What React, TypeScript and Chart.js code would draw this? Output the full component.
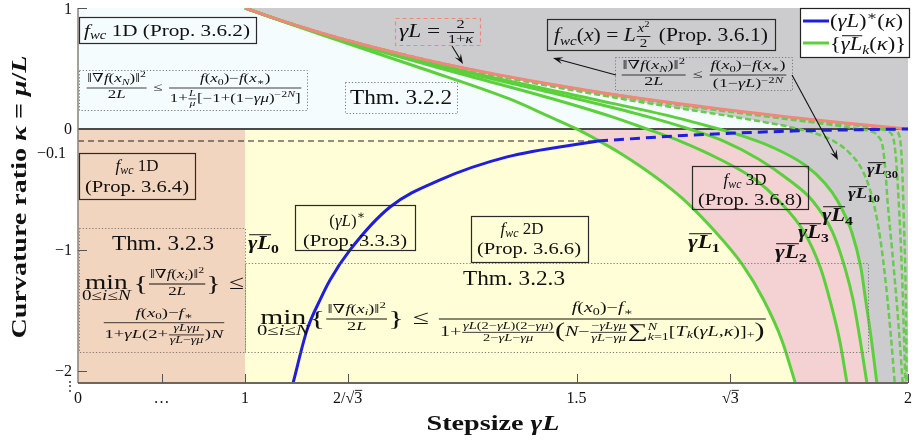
import { useEffect, useRef } from 'react';
import { Chart, registerables } from 'chart.js';

Chart.register(...registerables);

const WIDTH = 921;
const HEIGHT = 444;

// Horizontal axis: [1, 2] is drawn to scale, [0, 1] is squeezed into a short stub on the left.
const GAMMA_ZERO_AT = 0.748;
const GAMMA_MAX = 2;
const KAPPA_MIN = -2.1;
const KAPPA_MAX = 1;

const xTickValues = [GAMMA_ZERO_AT, 0.874, 1, 1.1547, 1.5, 1.7321, 2];
const xTickLabels = ['0', '…', '1', '2/√3', '1.5', '√3', '2'];
const yTickValues = [1, 0, -0.1, -1, -2];
const yTickLabels = ['1', '0', '−0.1', '−1', '−2'];

// Curves as [γL, κ] pairs, listed with increasing γL.
const stepBoundary: number[][] = [
  [1, 1], [1.0526, 0.9], [1.1111, 0.8], [1.1765, 0.7], [1.25, 0.6], [1.3333, 0.5],
  [1.4286, 0.4], [1.5385, 0.3], [1.6667, 0.2], [1.8182, 0.1], [1.9048, 0.05], [1.9608, 0.02], [2, 0],
];

const gammaL1: number[][] = [
  [1, 1], [1.0512, 0.9], [1.1315, 0.75], [1.267, 0.5], [1.398, 0.25], [1.46, 0.1], [1.5, 0],
  [1.531, -0.09], [1.563, -0.19], [1.594, -0.3], [1.632, -0.45], [1.665, -0.6], [1.706, -0.83],
  [1.75, -1.12], [1.782, -1.41], [1.81, -1.75], [1.83, -2.1],
];
const gammaL2: number[][] = [
  [1, 1], [1.0518, 0.9], [1.137, 0.75], [1.2962, 0.5], [1.4635, 0.25], [1.554, 0.1], [1.606, 0],
  [1.656, -0.1], [1.716, -0.25], [1.77, -0.42], [1.804, -0.587], [1.843, -0.85], [1.868, -1.15],
  [1.882, -1.41], [1.897, -1.75], [1.908, -2.1],
];
const gammaL3: number[][] = [
  [1, 1], [1.0522, 0.9], [1.1389, 0.75], [1.3082, 0.5], [1.5, 0.25], [1.6085, 0.1], [1.67, 0],
  [1.722, -0.1], [1.775, -0.25], [1.82, -0.42], [1.855, -0.587], [1.886, -0.85], [1.905, -1.15],
  [1.917, -1.41], [1.928, -1.75], [1.938, -2.1],
];
const gammaL4: number[][] = [
  [1, 1], [1.0522, 0.9], [1.1399, 0.75], [1.3144, 0.5], [1.522, 0.25], [1.6457, 0.1], [1.681, 0.05],
  [1.7145, 0], [1.746, -0.05], [1.795, -0.15], [1.845, -0.3], [1.875, -0.45], [1.893, -0.587],
  [1.915, -0.85], [1.929, -1.15], [1.936, -1.41], [1.945, -1.75], [1.953, -2.1],
];
const gammaL10: number[][] = [
  [1, 1], [1.0525, 0.9], [1.1417, 0.75], [1.3257, 0.5], [1.5674, 0.25], [1.7372, 0.1], [1.79, 0.05],
  [1.819, 0.02], [1.834, 0], [1.856, -0.03], [1.888, -0.1], [1.912, -0.2], [1.932, -0.35],
  [1.947, -0.587], [1.958, -0.9], [1.967, -1.3], [1.974, -1.7], [1.98, -2.1],
];
const gammaL30: number[][] = [
  [1, 1], [1.0526, 0.9], [1.1425, 0.75], [1.3306, 0.5], [1.5893, 0.25], [1.7902, 0.1], [1.8627, 0.05],
  [1.903, 0.02], [1.924, 0], [1.944, -0.02], [1.955, -0.06], [1.962, -0.15], [1.966, -0.35],
  [1.969, -0.587], [1.976, -1], [1.984, -1.5], [1.992, -2.1],
];
const gammaL60: number[][] = [
  [1, 1], [1.0526, 0.9], [1.1428, 0.75], [1.3318, 0.5], [1.595, 0.25], [1.805, 0.1], [1.885, 0.05],
  [1.935, 0.02], [1.9555, 0], [1.97, -0.02], [1.978, -0.08], [1.982, -0.25], [1.986, -0.6],
  [1.991, -1.2], [1.996, -2.1],
];
const gammaL100: number[][] = [
  [1, 1], [1.0526, 0.9], [1.1428, 0.75], [1.3325, 0.5], [1.598, 0.25], [1.811, 0.1], [1.894, 0.05],
  [1.947, 0.02], [1.9705, 0], [1.982, -0.02], [1.988, -0.08], [1.991, -0.3], [1.994, -0.8],
  [1.997, -1.5], [1.998, -2.1],
];

// Optimal stepsize (γL)*(κ): solid branch, then its dashed continuation
const optimalStep: number[][] = [
  [1.0724, -2.1], [1.0935, -1.661], [1.1131, -1.413], [1.1282, -1.248], [1.1584, -1.0],
  [1.2187, -0.645], [1.2941, -0.421], [1.3952, -0.231], [1.5324, -0.099],
];
const optimalStepContinued: number[][] = [[1.5324, -0.099], [1.676, -0.05], [1.827, -0.017], [2, 0]];
const kappaThreshold: number[][] = [[GAMMA_ZERO_AT, -0.099], [1.5324, -0.099]];

const LIGHT_BLUE = '#F5FCFE';
const PEACH = '#F2D5BF';
const YELLOW = '#FFFED7';
const PINK = '#F4D2D3';
const BLEND = '#E3D3D5';
const GRAY = '#CCCCCE';
const GREEN = '#5CD03C';
const GREEN_DASHED = '#67CB4E';
const RED = '#F0877A';
const BLUE = '#1E1EDC';

// ---------- small math-text typesetter ----------
const SERIF = '"Liberation Serif", "DejaVu Serif", serif';
const fontOf = (f: string, px: number) =>
  `${f === 'i' || f === 'bi' ? 'italic ' : ''}${f === 'b' || f === 'bi' ? 'bold ' : ''}${px}px ${SERIF}`;

const R = (s: string, sc = 1): any => ({ k: 't', s, f: 'r', sc });
const I = (s: string, sc = 1): any => ({ k: 't', s, f: 'i', sc });
const B = (s: string, sc = 1): any => ({ k: 't', s, f: 'b', sc });
const BI = (s: string, sc = 1): any => ({ k: 't', s, f: 'bi', sc });
const sp = (w: number): any => ({ k: 'sp', w });
const sub = (...c: any[]): any => ({ k: 'sub', c });
const sup = (...c: any[]): any => ({ k: 'sup', c });
const subsup = (b: any[], p: any[]): any => ({ k: 'subsup', b, p });
const under = (c: any[], u: any[]): any => ({ k: 'under', c, u });
const frac = (n: any[], d: any[], sc = 1): any => ({ k: 'frac', n, d, sc });
const ov = (...c: any[]): any => ({ k: 'ov', c });

function measureNodes(ctx: CanvasRenderingContext2D, nodes: any[], size: number) {
  let w = 0, a = 0, d = 0;
  for (const n of nodes) {
    const b = measureNode(ctx, n, size);
    w += b.w; a = Math.max(a, b.a); d = Math.max(d, b.d);
  }
  return { w, a, d };
}

function measureNode(ctx: CanvasRenderingContext2D, n: any, size: number): { w: number; a: number; d: number } {
  switch (n.k) {
    case 't': {
      const px = size * n.sc;
      ctx.font = fontOf(n.f, px);
      return { w: ctx.measureText(n.s).width, a: px * 0.72, d: px * 0.22 };
    }
    case 'sp': return { w: n.w * size, a: 0, d: 0 };
    case 'sub': {
      const b = measureNodes(ctx, n.c, size * 0.7);
      return { w: b.w, a: b.a - size * 0.2, d: b.d + size * 0.2 };
    }
    case 'sup': {
      const b = measureNodes(ctx, n.c, size * 0.7);
      return { w: b.w, a: b.a + size * 0.4, d: 0 };
    }
    case 'subsup': {
      const lo = measureNodes(ctx, n.b, size * 0.7);
      const hi = measureNodes(ctx, n.p, size * 0.7);
      return { w: Math.max(lo.w, hi.w), a: hi.a + size * 0.45, d: lo.d + size * 0.3 };
    }
    case 'under': {
      const top = measureNodes(ctx, n.c, size);
      const low = measureNodes(ctx, n.u, size * 0.7);
      return { w: Math.max(top.w, low.w), a: top.a, d: size * 0.55 + low.d };
    }
    case 'frac': {
      const s = size * n.sc;
      const nb = measureNodes(ctx, n.n, s);
      const db = measureNodes(ctx, n.d, s);
      const axis = size * 0.25, gap = Math.max(1.5, size * 0.1);
      return { w: Math.max(nb.w, db.w) + size * 0.16, a: axis + gap + nb.d + nb.a, d: db.a + gap + db.d - axis };
    }
    case 'ov': {
      const b = measureNodes(ctx, n.c, size);
      return { w: b.w, a: b.a + size * 0.12, d: b.d };
    }
  }
  return { w: 0, a: 0, d: 0 };
}

function renderNodes(ctx: CanvasRenderingContext2D, nodes: any[], x: number, y: number, size: number) {
  let cx = x;
  for (const n of nodes) cx += renderNode(ctx, n, cx, y, size);
  return cx - x;
}

function renderNode(ctx: CanvasRenderingContext2D, n: any, x: number, y: number, size: number): number {
  switch (n.k) {
    case 't': {
      const px = size * n.sc;
      ctx.font = fontOf(n.f, px);
      ctx.fillText(n.s, x, y + 0.25 * (px - size));
      return ctx.measureText(n.s).width;
    }
    case 'sp': return n.w * size;
    case 'sub': return renderNodes(ctx, n.c, x, y + size * 0.2, size * 0.7);
    case 'sup': return renderNodes(ctx, n.c, x, y - size * 0.4, size * 0.7);
    case 'subsup': {
      const w1 = renderNodes(ctx, n.b, x, y + size * 0.3, size * 0.7);
      const w2 = renderNodes(ctx, n.p, x, y - size * 0.45, size * 0.7);
      return Math.max(w1, w2);
    }
    case 'under': {
      const top = measureNodes(ctx, n.c, size);
      const low = measureNodes(ctx, n.u, size * 0.7);
      const w = Math.max(top.w, low.w);
      renderNodes(ctx, n.c, x + (w - top.w) / 2, y, size);
      renderNodes(ctx, n.u, x + (w - low.w) / 2, y + size * 0.55, size * 0.7);
      return w;
    }
    case 'frac': {
      const s = size * n.sc;
      const nb = measureNodes(ctx, n.n, s);
      const db = measureNodes(ctx, n.d, s);
      const axis = size * 0.25, gap = Math.max(1.5, size * 0.1);
      const w = Math.max(nb.w, db.w) + size * 0.16;
      const barY = y - axis;
      const lw = Math.max(0.8, size * 0.05);
      ctx.fillRect(x + size * 0.04, barY - lw / 2, w - size * 0.08, lw);
      renderNodes(ctx, n.n, x + (w - nb.w) / 2, barY - gap - nb.d, s);
      renderNodes(ctx, n.d, x + (w - db.w) / 2, barY + gap + db.a, s);
      return w;
    }
    case 'ov': {
      const b = measureNodes(ctx, n.c, size);
      const w = renderNodes(ctx, n.c, x, y, size);
      ctx.fillRect(x + size * 0.05, y - b.a - size * 0.1, w - size * 0.05, Math.max(0.9, size * 0.055));
      return w;
    }
  }
  return 0;
}

// Draw a formula; when a width is given it is stretched horizontally to fill it.
function drawMath(ctx: CanvasRenderingContext2D, nodes: any[], x: number, y: number, size: number,
  align: 'l' | 'c' | 'r' = 'c', width = 0, color = '#111') {
  const m = measureNodes(ctx, nodes, size);
  const sx = width ? width / m.w : 1;
  const total = m.w * sx;
  const left = align === 'l' ? x : align === 'r' ? x - total : x - total / 2;
  ctx.save();
  ctx.translate(left, y);
  ctx.scale(sx, 1);
  ctx.fillStyle = color;
  ctx.textAlign = 'left';
  ctx.textBaseline = 'alphabetic';
  renderNodes(ctx, nodes, 0, 0, size);
  ctx.restore();
}

// ---------- formulas ----------
const gradSq = (i: any) => [R('‖∇'), I('f'), R('('), I('x'), sub(i), R(')‖'), sup(R('2'))];
const fAt = (i: any) => [I('f'), R('('), I('x'), sub(i), R(')')];
const twoL = [R('2'), I('L')];
const fwc = [I('f'), sub(I('wc'))];
const minOverI = under([R('min')], [R('0≤'), I('i'), R('≤'), I('N')]);
const barGammaL = (k: string, sc = 1) => [ov(BI('γL', sc)), sub(B(k, sc))];

const boundOneD = [
  frac(gradSq(I('N')), twoL), sp(0.35), R('≤'), sp(0.35),
  frac([...fAt(R('0')), R('−'), ...fAt(R('∗'))],
    [R('1+'), frac([I('L')], [I('μ')], 0.7), R('[−1+(1−'), I('γμ'), R(')'), sup(R('−2'), I('N')), R(']')]),
];
const boundQuadratic = [
  frac(gradSq(I('N')), twoL), sp(0.35), R('≤'), sp(0.35),
  frac([...fAt(R('0')), R('−'), ...fAt(R('∗'))], [R('(1−'), I('γL'), R(')'), sup(R('−2'), I('N'))]),
];
const stepBoundaryLabel = [I('γL'), sp(0.25), R('='), sp(0.25), frac([R('2')], [R('1+'), I('κ')], 0.7)];
const quadraticLabel = [...fwc, R('('), I('x'), R(')'), sp(0.25), R('='), sp(0.25), I('L'),
  frac([I('x'), sup(R('2'))], [R('2')], 0.7), sp(0.35), R('(Prop. 3.6.1)')];
const minGradRow = [minOverI, sp(0.1), R('{', 1.1), frac(gradSq(I('i')), twoL, 0.62), R('}', 1.1), sp(0.3), R('≤')];
const boundSmallStep = [frac([...fAt(R('0')), R('−'), I('f'), sub(R('∗'))],
  [R('1+'), I('γL'), R('(2+'), frac([I('γLγμ')], [I('γL'), R('−'), I('γμ')], 0.75), R(')'), I('N')])];
const boundLargeStep = [
  minOverI, R('{', 1.1), frac(gradSq(I('i')), twoL, 0.62), R('}', 1.1), sp(0.3), R('≤'), sp(0.3),
  frac([...fAt(R('0')), R('−'), I('f'), sub(R('∗'))], [
    R('1+'),
    frac([I('γL'), R('(2−'), I('γL'), R(')(2−'), I('γμ'), R(')')], [R('2−'), I('γL'), R('−'), I('γμ')], 0.72),
    R('(', 1.5), I('N'), R('−'),
    frac([R('−'), I('γLγμ')], [I('γL'), R('−'), I('γμ')], 0.72),
    R('∑', 1.4), subsup([I('k'), R('=1')], [I('N')]),
    R('['), I('T'), sub(I('k')), R('('), I('γL'), R(','), I('κ'), R(')]'), sub(R('+')), R(')', 1.5),
  ], 0.68),
];

function box(ctx: CanvasRenderingContext2D, x0: number, y0: number, x1: number, y1: number,
  style: 'solid' | 'dotted' | 'dashed') {
  ctx.save();
  if (style === 'solid') { ctx.strokeStyle = '#2a2a2a'; ctx.lineWidth = 1.2; ctx.setLineDash([]); }
  if (style === 'dotted') { ctx.strokeStyle = '#7a7a7a'; ctx.lineWidth = 1; ctx.setLineDash([1.2, 2]); }
  if (style === 'dashed') { ctx.strokeStyle = RED; ctx.lineWidth = 1.2; ctx.setLineDash([4, 3]); }
  ctx.strokeRect(x0 + 0.5, y0 + 0.5, x1 - x0, y1 - y0);
  ctx.restore();
}

function arrow(ctx: CanvasRenderingContext2D, x0: number, y0: number, x1: number, y1: number) {
  const ang = Math.atan2(y1 - y0, x1 - x0);
  const len = 10, half = 3.6;
  ctx.save();
  ctx.strokeStyle = '#111';
  ctx.fillStyle = '#111';
  ctx.lineWidth = 1.1;
  ctx.beginPath();
  ctx.moveTo(x0, y0);
  ctx.lineTo(x1 - Math.cos(ang) * 4, y1 - Math.sin(ang) * 4);
  ctx.stroke();
  ctx.beginPath();
  ctx.moveTo(x1, y1);
  ctx.lineTo(x1 - len * Math.cos(ang) + half * Math.sin(ang), y1 - len * Math.sin(ang) - half * Math.cos(ang));
  ctx.lineTo(x1 - 0.6 * len * Math.cos(ang), y1 - 0.6 * len * Math.sin(ang));
  ctx.lineTo(x1 - len * Math.cos(ang) - half * Math.sin(ang), y1 - len * Math.sin(ang) + half * Math.cos(ang));
  ctx.closePath();
  ctx.fill();
  ctx.restore();
}

const toXY = (pts: number[][]) => pts.map(([x, y]) => ({ x, y }));

// Region shading: bands first, then everything to the right of selected γL_k curves.
const regionsPlugin = {
  id: 'regions',
  beforeDatasetsDraw(chart: any) {
    const { ctx, chartArea: a } = chart;
    const X = (v: number) => chart.scales.x.getPixelForValue(v);
    const Y = (v: number) => chart.scales.y.getPixelForValue(v);
    ctx.save();
    ctx.beginPath();
    ctx.rect(a.left, a.top, a.right - a.left, a.bottom - a.top);
    ctx.clip();
    ctx.fillStyle = LIGHT_BLUE;
    ctx.fillRect(X(GAMMA_ZERO_AT), Y(KAPPA_MAX), X(GAMMA_MAX) - X(GAMMA_ZERO_AT), Y(0) - Y(KAPPA_MAX));
    ctx.fillStyle = PEACH;
    ctx.fillRect(X(GAMMA_ZERO_AT), Y(0), X(1) - X(GAMMA_ZERO_AT), Y(KAPPA_MIN) - Y(0));
    ctx.fillStyle = YELLOW;
    ctx.fillRect(X(1), Y(0), X(GAMMA_MAX) - X(1), Y(KAPPA_MIN) - Y(0));

    const rightOf = (label: string, color: string, half: 'neg' | 'pos') => {
      const idx = chart.data.datasets.findIndex((d: any) => d.label === label);
      const meta = chart.getDatasetMeta(idx);
      const line = meta.dataset;
      line.updateControlPoints(a, 'x');
      const pts = meta.data;
      const first = pts[0], last = pts[pts.length - 1];
      ctx.save();
      ctx.beginPath();
      if (half === 'neg') ctx.rect(X(1), Y(0), a.right - X(1) + 5, a.bottom - Y(0) + 5);
      else ctx.rect(X(1), a.top - 5, a.right - X(1) + 5, Y(0) - a.top + 5);
      ctx.clip();
      ctx.beginPath();
      line.path(ctx);
      ctx.lineTo(a.right + 5, last.y + 5);
      ctx.lineTo(a.right + 5, a.top - 5);
      ctx.lineTo(first.x, a.top - 5);
      ctx.closePath();
      ctx.fillStyle = color;
      ctx.fill();
      ctx.restore();
    };
    rightOf('γL1', PINK, 'neg');
    rightOf('γL3', BLEND, 'neg');
    rightOf('γL4', GRAY, 'neg');
    rightOf('γL10', GRAY, 'pos');
    ctx.restore();

    // κ = 0
    ctx.save();
    ctx.strokeStyle = '#4a4a4a';
    ctx.lineWidth = 2;
    ctx.beginPath();
    ctx.moveTo(a.left, Y(0));
    ctx.lineTo(a.right, Y(0));
    ctx.stroke();
    ctx.restore();
  },
};

const decorPlugin = {
  id: 'decor',
  afterDatasetsDraw(chart: any) {
    const { ctx, chartArea: a } = chart;
    const X = (v: number) => chart.scales.x.getPixelForValue(v);
    const Y = (v: number) => chart.scales.y.getPixelForValue(v);

    // axes and tick marks
    ctx.save();
    ctx.strokeStyle = '#8a8079';
    ctx.lineWidth = 1.5;
    ctx.beginPath();
    ctx.moveTo(a.left, a.top);
    ctx.lineTo(a.left, a.bottom);
    ctx.stroke();
    ctx.strokeStyle = '#6b6660';
    ctx.lineWidth = 2;
    ctx.beginPath();
    ctx.moveTo(a.left, a.bottom);
    ctx.lineTo(a.right, a.bottom);
    ctx.stroke();
    ctx.strokeStyle = '#555';
    ctx.lineWidth = 1;
    for (const v of xTickValues.slice(1)) {
      ctx.beginPath();
      ctx.moveTo(Math.round(X(v)) + 0.5, a.bottom);
      ctx.lineTo(Math.round(X(v)) + 0.5, a.bottom - 9);
      ctx.stroke();
    }
    for (const v of [1, -1, -2]) {
      ctx.beginPath();
      ctx.moveTo(a.left, Math.round(Y(v)) + 0.5);
      ctx.lineTo(a.left + 9, Math.round(Y(v)) + 0.5);
      ctx.stroke();
    }
    ctx.restore();

    // tick labels
    xTickLabels.forEach((t, i) => {
      const nodes = t === '2/√3' ? [R('2/√'), ov(R('3'))] : t === '√3' ? [R('√'), ov(R('3'))] : [R(t)];
      drawMath(ctx, nodes, X(xTickValues[i]), a.bottom + 20, 16, 'c');
    });
    yTickLabels.forEach((t, i) => {
      const v = yTickValues[i];
      const shift = v === -0.1 ? 11 : 0;
      drawMath(ctx, [R(t)], v === -0.1 ? a.left - 12 : a.left - 6, Y(v) + 5.5 + shift, 16, 'r');
    });
    drawMath(ctx, [R('⋮')], a.left - 8, a.bottom + 8, 14, 'c', 0, '#333');

    // axis titles
    drawMath(ctx, [B('Stepsize '), BI('γL')], (a.left + a.right) / 2, 430, 22, 'c', 133);
    ctx.save();
    ctx.translate(26, 197);
    ctx.rotate(-Math.PI / 2);
    drawMath(ctx, [B('Curvature ratio '), BI('κ'), B(' = '), BI('μ'), B('/'), BI('L')], 0, 0, 22, 'c', 283);
    ctx.restore();

    // boxed annotations
    box(ctx, 79, 17, 256, 43, 'solid');
    drawMath(ctx, [...fwc, R(' 1D (Prop. 3.6.2)')], 167, 36, 17, 'c', 166);
    box(ctx, 79, 70, 307, 110, 'dotted');
    drawMath(ctx, boundOneD, 194, 91, 12, 'c', 216);

    box(ctx, 345, 82, 457, 113, 'dotted');
    drawMath(ctx, [R('Thm. 3.2.2')], 401, 104, 20, 'c', 102);

    box(ctx, 395, 18, 480, 45, 'dashed');
    drawMath(ctx, stepBoundaryLabel, 437, 37, 18, 'c', 76);
    arrow(ctx, 452, 46, 463, 64);

    box(ctx, 547, 19, 775, 50, 'solid');
    drawMath(ctx, quadraticLabel, 661, 41, 18, 'c', 214);
    box(ctx, 615, 57, 792, 90, 'dotted');
    drawMath(ctx, boundQuadratic, 704, 78, 12, 'c', 166);
    arrow(ctx, 616, 75, 553, 58);
    arrow(ctx, 792, 75, 838, 160);

    box(ctx, 79, 153, 195, 199, 'solid');
    drawMath(ctx, [...fwc, R(' 1D')], 137, 171, 17, 'c');
    drawMath(ctx, [R('(Prop. 3.6.4)')], 137, 192, 17, 'c', 104);

    box(ctx, 79, 228, 245, 352, 'dotted');
    drawMath(ctx, [R('Thm. 3.2.3')], 163, 250, 20, 'c', 102);
    drawMath(ctx, minGradRow, 82, 289, 20, 'l', 162);
    drawMath(ctx, boundSmallStep, 164, 326, 13, 'c', 122);

    drawMath(ctx, barGammaL('0'), 248, 249, 18, 'l', 31);

    box(ctx, 295, 205, 415, 250, 'solid');
    drawMath(ctx, [R('('), I('γL'), R(')'), sup(R('∗'))], 347, 226, 17, 'c');
    drawMath(ctx, [R('(Prop. 3.3.3)')], 355, 246, 17, 'c', 104);

    box(ctx, 471, 216, 588, 262, 'solid');
    drawMath(ctx, [...fwc, R(' 2D')], 522, 234, 17, 'c');
    drawMath(ctx, [R('(Prop. 3.6.6)')], 529, 254, 17, 'c', 104);

    box(ctx, 245, 263, 868, 352, 'dotted');
    drawMath(ctx, [R('Thm. 3.2.3')], 514, 285, 20, 'c', 102);
    drawMath(ctx, boundLargeStep, 257, 324, 20, 'l', 510);

    box(ctx, 692, 166, 808, 209, 'solid');
    drawMath(ctx, [...fwc, R(' 3D')], 745, 185, 17, 'c');
    drawMath(ctx, [R('(Prop. 3.6.8)')], 750, 205, 17, 'c', 104);

    // curve labels
    drawMath(ctx, barGammaL('1'), 688, 248, 18, 'l', 32);
    drawMath(ctx, barGammaL('2'), 775, 258, 18, 'l', 32);
    drawMath(ctx, barGammaL('3'), 798, 238, 18, 'l', 31);
    drawMath(ctx, barGammaL('4'), 822, 221, 18, 'l', 31);
    drawMath(ctx, barGammaL('10', 0.85), 848, 199, 18, 'l', 32);
    drawMath(ctx, barGammaL('30', 0.85), 867, 175, 18, 'l', 31);

    // legend
    ctx.save();
    ctx.fillStyle = '#fff';
    ctx.fillRect(800, 8, 109, 49);
    ctx.strokeStyle = '#222';
    ctx.lineWidth = 1.2;
    ctx.strokeRect(800.5, 8.5, 109, 49);
    ctx.lineWidth = 3;
    ctx.strokeStyle = BLUE;
    ctx.beginPath(); ctx.moveTo(803, 21); ctx.lineTo(829, 21); ctx.stroke();
    ctx.strokeStyle = GREEN;
    ctx.beginPath(); ctx.moveTo(803, 43); ctx.lineTo(829, 43); ctx.stroke();
    ctx.restore();
    drawMath(ctx, [R('('), I('γL'), R(')'), sup(R('∗')), R('('), I('κ'), R(')')], 830, 27, 18, 'l', 73);
    drawMath(ctx, [R('{'), ov(I('γL')), sub(I('k')), R('('), I('κ'), R(')}')], 830, 50, 18, 'l', 76);
  },
};

const lineDefaults = {
  pointRadius: 0,
  pointHoverRadius: 0,
  fill: false,
  cubicInterpolationMode: 'monotone' as const,
};

export default function App() {
  const canvasRef = useRef<HTMLCanvasElement>(null);

  useEffect(() => {
    const canvas = canvasRef.current;
    if (!canvas) return;
    const greens = [
      { label: 'γL1', pts: gammaL1, dashed: false },
      { label: 'γL2', pts: gammaL2, dashed: false },
      { label: 'γL3', pts: gammaL3, dashed: false },
      { label: 'γL4', pts: gammaL4, dashed: false },
      { label: 'γL10', pts: gammaL10, dashed: true },
      { label: 'γL30', pts: gammaL30, dashed: true },
      { label: 'γL60', pts: gammaL60, dashed: true },
      { label: 'γL100', pts: gammaL100, dashed: true },
    ];
    const chart = new Chart(canvas, {
      type: 'line',
      data: {
        datasets: [
          { ...lineDefaults, label: 'optimal', data: toXY(optimalStep), borderColor: BLUE, borderWidth: 3, order: 0 },
          { ...lineDefaults, label: 'optimal-cont', data: toXY(optimalStepContinued), borderColor: BLUE, borderWidth: 3, borderDash: [10, 6], order: 0 },
          { ...lineDefaults, label: 'boundary', data: toXY(stepBoundary), borderColor: RED, borderWidth: 3, order: 1 },
          ...greens.map((g) => ({
            ...lineDefaults,
            label: g.label,
            data: toXY(g.pts),
            borderColor: g.dashed ? GREEN_DASHED : GREEN,
            borderWidth: g.dashed ? 2.5 : 3,
            borderDash: g.dashed ? [6, 3] : [],
            order: 2,
          })),
          { ...lineDefaults, label: 'threshold', data: toXY(kappaThreshold), borderColor: '#222', borderWidth: 1.1, borderDash: [6, 4], cubicInterpolationMode: 'default' as const, order: 3 },
        ],
      },
      options: {
        responsive: false,
        animation: false,
        devicePixelRatio: 1,
        events: [],
        layout: { padding: { left: 78, right: 13, top: 8, bottom: 61 } },
        scales: {
          x: { type: 'linear', min: GAMMA_ZERO_AT, max: GAMMA_MAX, display: false },
          y: { type: 'linear', min: KAPPA_MIN, max: KAPPA_MAX, display: false },
        },
        plugins: { legend: { display: false }, tooltip: { enabled: false } },
      },
      plugins: [regionsPlugin, decorPlugin],
    });
    return () => chart.destroy();
  }, []);

  return (
    <div style={{ position: 'absolute', left: 0, top: 0, width: WIDTH, height: HEIGHT, background: '#fff' }}>
      <canvas ref={canvasRef} width={WIDTH} height={HEIGHT} style={{ display: 'block', width: WIDTH, height: HEIGHT }} />
    </div>
  );
}
